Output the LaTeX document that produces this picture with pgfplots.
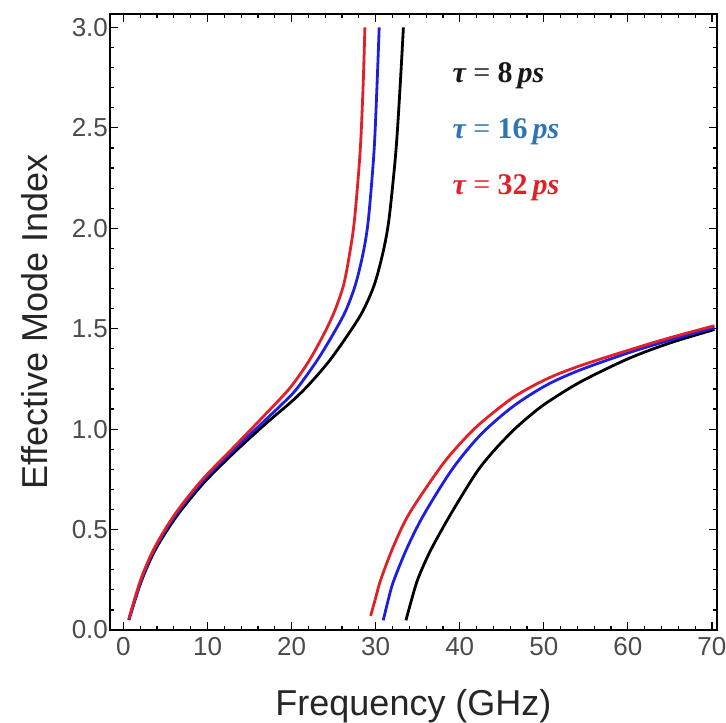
\documentclass[border=0pt]{standalone}
\usepackage{pgfplots}
\pgfplotsset{compat=1.18}
\usepackage{fontspec}
\setmainfont{Liberation Sans}
\newfontfamily\legfont{Liberation Serif}
\definecolor{cred}{RGB}{226,32,40}
\definecolor{cblue}{RGB}{30,30,225}
\definecolor{lblue}{RGB}{46,117,182}
\definecolor{tickgray}{RGB}{75,75,75}
\newcommand{\tauleg}[1]{{\legfont\bfseries\itshape τ}{\legfont\ =\ }{\legfont\bfseries #1}\,{\legfont\bfseries\itshape ps}}

\begin{document}
\begin{tikzpicture}
\begin{axis}[
  scale only axis,
  width=303.5pt, height=308pt,
  xmin=-1.6, xmax=70.6,
  ymin=0, ymax=3.067,
  xtick={0,10,...,70},
  ytick={0,0.5,...,3.0},
  minor xtick={2,4,6,8,12,14,16,18,22,24,26,28,32,34,36,38,42,44,46,48,52,54,56,58,62,64,66,68},
  minor ytick={0.1,0.2,0.3,0.4,0.6,0.7,0.8,0.9,1.1,1.2,1.3,1.4,1.6,1.7,1.8,1.9,2.1,2.2,2.3,2.4,2.6,2.7,2.8,2.9},
  yticklabel style={/pgf/number format/fixed, /pgf/number format/fixed zerofill, /pgf/number format/precision=1, xshift=2.5pt},
  /pgf/number format/assume math mode=true,
  tick align=inside,
  major tick length=4pt,
  minor tick length=2pt,
  tick style={black, line width=0.6pt},
  axis line style={black, line width=0.8pt},
  ticklabel style={font=\fontsize{13}{15}\selectfont, text=tickgray},
  label style={font=\fontsize{18}{21}\selectfont, text=black!85},
  xlabel={Frequency (GHz)},
  ylabel={Effective Mode Index},
  xlabel style={at={(axis description cs:0.5,-0.123)}, anchor=center},
  ylabel style={at={(axis description cs:-0.1236,0.5)}, anchor=center},
  every axis plot/.append style={line width=1.4pt, smooth, tension=0.5, no markers},
]
% tau = 8 ps
\addplot[black] coordinates {(0.64,0.05) (2.1,0.24) (3.8,0.40) (6.3,0.565) (9.5,0.73) (13.2,0.885) (17.0,1.03) (19.8,1.13) (21.8,1.21) (24.4,1.335) (26.7,1.47) (28.45,1.586) (29.85,1.72) (30.9,1.885) (31.6,2.05) (32.4,2.38) (32.9,2.7) (33.3,3.0)};
\addplot[black] coordinates {(33.6,0.048) (34.2,0.14) (34.9,0.24) (35.7,0.322) (36.7,0.41) (38.9,0.575) (42.0,0.785) (44.2,0.899) (46.4,0.995) (48.4,1.069) (50.4,1.133) (54.35,1.235) (60,1.35) (65,1.429) (70.3,1.496)};
% tau = 16 ps
\addplot[cblue] coordinates {(0.64,0.05) (2.1,0.245) (3.75,0.405) (6.2,0.57) (9.4,0.738) (13.1,0.895) (17.0,1.05) (19.0,1.13) (20.6,1.20) (23.0,1.34) (24.9,1.47) (26.4,1.586) (27.6,1.72) (28.55,1.885) (29.15,2.05) (29.8,2.38) (30.15,2.7) (30.42,3.0)};
\addplot[cblue] coordinates {(30.9,0.048) (31.5,0.15) (32.1,0.24) (33.7,0.405) (35.7,0.572) (39.1,0.80) (42.5,0.973) (46.4,1.115) (50.4,1.221) (54.35,1.295) (60,1.379) (65,1.443) (70.3,1.505)};
% tau = 32 ps
\addplot[cred] coordinates {(0.64,0.055) (2.05,0.25) (3.7,0.41) (6.1,0.575) (9.3,0.745) (13.0,0.905) (16.8,1.07) (19.8,1.205) (22.0,1.335) (23.8,1.47) (25.1,1.586) (26.2,1.72) (26.95,1.885) (27.5,2.05) (28.15,2.38) (28.5,2.7) (28.72,3.0)};
\addplot[cred] coordinates {(29.4,0.07) (30.0,0.16) (30.6,0.25) (32.1,0.415) (34.0,0.58) (37.7,0.81) (40,0.926) (42.4,1.027) (46.4,1.159) (50.4,1.251) (54.35,1.316) (60,1.392) (65,1.455) (70.3,1.515)};

\node[anchor=west, text=black!90, font=\fontsize{15}{17}\selectfont] at (axis cs:38.3,2.76) {\tauleg{8}};
\node[anchor=west, text=lblue, font=\fontsize{15}{17}\selectfont] at (axis cs:38.3,2.48) {\tauleg{16}};
\node[anchor=west, text=cred, font=\fontsize{15}{17}\selectfont] at (axis cs:38.3,2.20) {\tauleg{32}};
\end{axis}
\pgfresetboundingbox
\path[use as bounding box] ([xshift=-55pt,yshift=-46.5pt]current axis.south west) rectangle ([xshift=4.5pt,yshift=7pt]current axis.north east);
\end{tikzpicture}
\end{document}
